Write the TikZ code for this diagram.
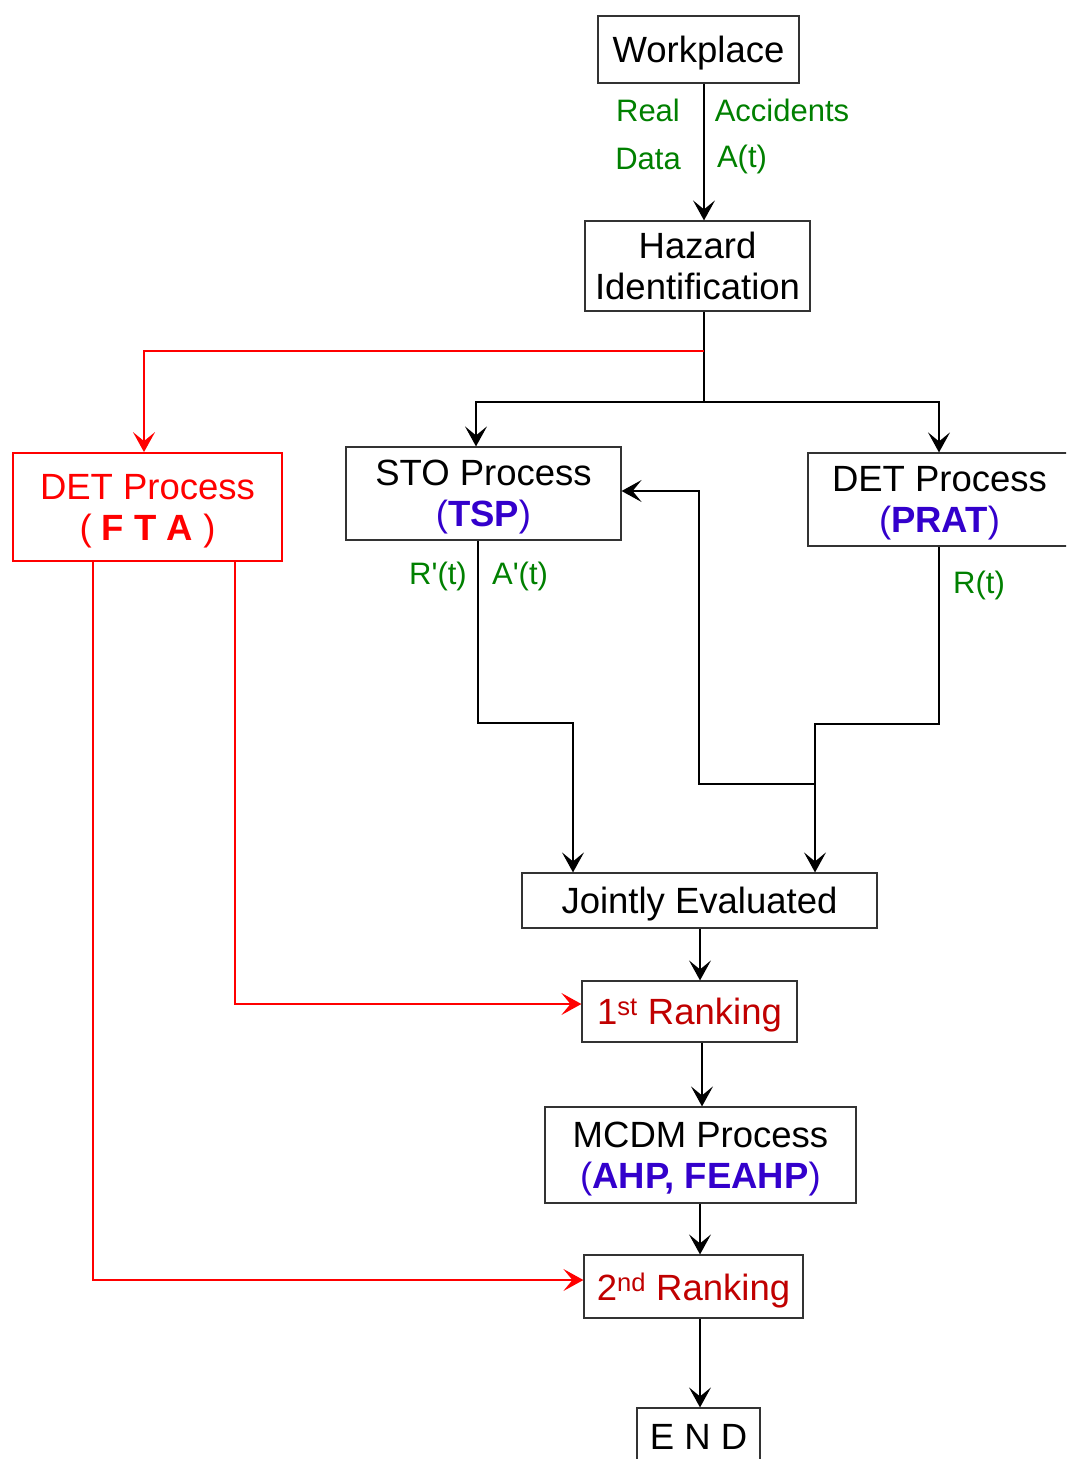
\documentclass[tikz,border=0pt]{standalone}
\usepackage{fontspec}
\setmainfont{Liberation Sans}
\usetikzlibrary{arrows.meta}
\definecolor{lblgreen}{RGB}{0,128,0}
\definecolor{tblue}{RGB}{51,0,204}
\definecolor{dred}{RGB}{192,0,0}
\definecolor{fred}{RGB}{255,0,0}
\tikzset{
  box/.style={draw=black!80, line width=1.2pt, rectangle, inner sep=0pt, align=center,
    text depth=0pt, font=\fontsize{36.5}{41}\selectfont},
  lbl/.style={text=lblgreen, inner sep=0pt, font=\fontsize{31}{36}\selectfont},
  conn/.style={draw=black, line width=1.2pt},
  tip/.style={-{Stealth[length=20pt, width=22pt, inset=9pt]}},
  arr/.style={conn, tip},
  redarr/.style={draw=fred, line width=1.8pt, tip}
}
\begin{document}
\begin{tikzpicture}[x=1pt,y=-1pt]
\useasboundingbox (0,0) rectangle (1066,1459);
\clip (0,0) rectangle (1066,1459);

% nodes
\node[box, minimum width=201pt, minimum height=67pt] (work) at (698.5,49.5) {Workplace};
\node[box, minimum width=225pt, minimum height=90pt] (haz) at (697.5,266) {Hazard\\Identification};
\node[box, draw=fred, text=fred, line width=1.8pt, minimum width=269pt, minimum height=108pt] (fta) at (147.5,507) {DET Process\\( \textbf{F T A} )};
\node[box, minimum width=275pt, minimum height=93pt] (sto) at (483.5,493.5) {STO Process\\\textcolor{tblue}{(\textbf{TSP})}};
\node[box, minimum width=263pt, minimum height=93pt] (prat) at (939.5,499.5) {DET Process\\\textcolor{tblue}{(\textbf{PRAT})}};
\node[box, minimum width=355pt, minimum height=55pt] (joint) at (699.5,900.5) {Jointly Evaluated};
\node[box, text=dred, minimum width=215pt, minimum height=61pt] (rank1) at (689.5,1011.5) {1\textsuperscript{st} Ranking};
\node[box, minimum width=311pt, minimum height=96pt] (mcdm) at (700.5,1155) {MCDM Process\\\textcolor{tblue}{(\textbf{AHP, FEAHP})}};
\node[box, text=dred, minimum width=219pt, minimum height=63pt] (rank2) at (693.5,1286.5) {2\textsuperscript{nd} Ranking};
\node[box, minimum width=123pt, minimum height=58pt] (end) at (698.5,1437) {E N D};

% labels
\node[lbl] (l1) at (648,110) {Real};
\node[lbl] (l2) at (782,110) {Accidents};
\node[lbl] (l3) at (648,159) {Data};
\node[lbl] (l4) at (742,159) {A(t)};
\node[lbl] (l5) at (438,576) {R\textquotesingle(t)};
\node[lbl] (l6) at (520,576) {A\textquotesingle(t)};
\node[lbl] (l7) at (979,585) {R(t)};

% coordinates
\coordinate (split) at (704,402);
\coordinate (redsplit) at (704,351);
\coordinate (fb) at (815,784);

% connectors
\draw[arr] (work.south -| 704,0) -- (haz.north -| 704,0);
\draw[conn] (haz.south -| 704,0) -- (split);
\draw[arr] (split) -| (sto.north -| 476,0);
\draw[arr] (split) -| (prat.north -| 939,0);
\draw[redarr] (redsplit) -| (fta.north -| 144,0);
\draw[arr] (sto.south -| 478,0) |- (573,723) -- (joint.north -| 573,0);
\draw[arr] (prat.south -| 939,0) |- (815,724) -- (joint.north -| 815,0);
\draw[arr] (fb) -| (699,491) -- (sto.east |- 0,491);
\draw[arr] (joint.south -| 700,0) -- (rank1.north -| 700,0);
\draw[arr] (rank1.south -| 702,0) -- (mcdm.north -| 702,0);
\draw[arr] (mcdm.south -| 700,0) -- (rank2.north -| 700,0);
\draw[arr] (rank2.south -| 700,0) -- (end.north -| 700,0);
\draw[redarr] (fta.south -| 235,0) |- (rank1.west |- 0,1004);
\draw[redarr] (fta.south -| 93,0) |- (rank2.west |- 0,1280);
\end{tikzpicture}
\end{document}
